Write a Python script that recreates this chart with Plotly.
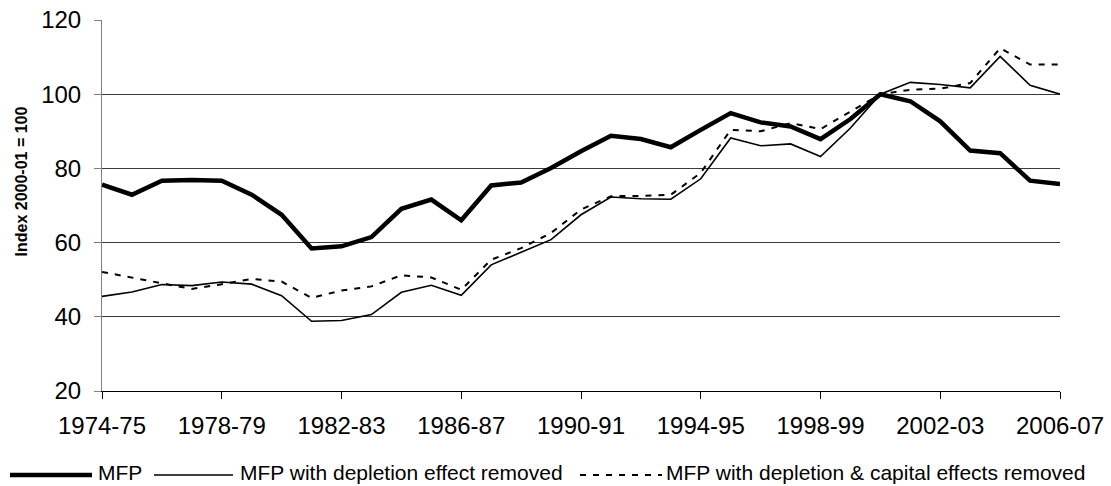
import plotly.graph_objects as go

years = [
    "1974-75", "1975-76", "1976-77", "1977-78", "1978-79", "1979-80", "1980-81",
    "1981-82", "1982-83", "1983-84", "1984-85", "1985-86", "1986-87", "1987-88",
    "1988-89", "1989-90", "1990-91", "1991-92", "1992-93", "1993-94", "1994-95",
    "1995-96", "1996-97", "1997-98", "1998-99", "1999-00", "2000-01", "2001-02",
    "2002-03", "2003-04", "2004-05", "2005-06", "2006-07",
]

mfp = [
    75.6, 72.9, 76.7, 76.9, 76.7, 72.9, 67.5, 58.4, 59.0, 61.5, 69.1, 71.6, 66.0,
    75.4, 76.2, 80.1, 84.6, 88.8, 87.9, 85.7, 90.4, 94.9, 92.4, 91.3, 87.9, 93.3,
    100.0, 98.1, 92.7, 84.8, 84.1, 76.7, 75.8,
]

mfp_depletion = [
    45.5, 46.7, 48.7, 48.4, 49.4, 48.8, 45.7, 38.8, 39.0, 40.6, 46.6, 48.5, 45.8,
    54.0, 57.4, 60.8, 67.5, 72.3, 71.8, 71.7, 77.2, 88.2, 86.1, 86.6, 83.2, 90.9,
    100.0, 103.2, 102.6, 101.7, 110.2, 102.4, 100.0,
]

mfp_depletion_capital = [
    52.1, 50.5, 49.1, 47.5, 48.8, 50.2, 49.5, 45.1, 47.1, 48.2, 51.2, 50.6, 47.3,
    55.4, 58.5, 62.6, 68.9, 72.5, 72.6, 72.9, 78.8, 90.4, 90.0, 92.2, 90.6, 95.4,
    100.0, 101.2, 101.5, 103.0, 112.4, 108.0, 108.0,
]

tick_labels = years[::4]

FONT = "Liberation Sans, Arial, sans-serif"

# plot area geometry (pixels) used to place the legend row below the axis
W, H = 1111, 486
L, R, T, B = 102, 51, 20, 95
PW, PH = W - L - R, H - T - B


def px(x):
    return (x - L) / PW


def py(y):
    return (H - B - y) / PH


series = [
    ("MFP", mfp, dict(color="black", width=4.5)),
    ("MFP with depletion effect removed", mfp_depletion,
     dict(color="black", width=1.6)),
    ("MFP with depletion & capital effects removed", mfp_depletion_capital,
     dict(color="black", width=2, dash="6px,7px")),
]

fig = go.Figure()
for name, vals, line in series:
    fig.add_trace(go.Scatter(x=years, y=vals, mode="lines", name=name, line=line))

# legend row: sample line span and text start, in pixels
legend_pos = [(10, 92, 96), (154, 233, 238), (580, 662, 664)]
legend_line_y = 475
legend_text_y = 472.5
shapes, annotations = [], []
for (name, _, line), (x0, x1, xt) in zip(series, legend_pos):
    shapes.append(dict(
        type="line", xref="paper", yref="paper",
        x0=px(x0), x1=px(x1), y0=py(legend_line_y), y1=py(legend_line_y),
        line=dict(color=line["color"], width=line["width"],
                  dash=line.get("dash", "solid")),
    ))
    annotations.append(dict(
        text=name, xref="paper", yref="paper", x=px(xt), y=py(legend_text_y),
        xanchor="left", yanchor="middle", showarrow=False,
        font=dict(family=FONT, size=21, color="black"),
    ))

annotations.append(dict(
    text="<b>Index 2000-01 = 100</b>", textangle=-90,
    xref="paper", yref="paper", x=px(21), y=py(181.5),
    xanchor="center", yanchor="middle", showarrow=False,
    font=dict(family=FONT, size=16, color="black"),
))

fig.update_layout(
    width=W, height=H,
    margin=dict(l=L, r=R, t=T, b=B, autoexpand=False),
    paper_bgcolor="white", plot_bgcolor="white",
    font=dict(family=FONT, color="black", size=24),
    showlegend=False,
    shapes=shapes,
    annotations=annotations,
)

fig.update_xaxes(
    type="category", categoryorder="array", categoryarray=years,
    range=[0, len(years) - 1], automargin=False,
    tickmode="array", tickvals=tick_labels, ticktext=tick_labels,
    tickangle=0, ticklabelstandoff=6,
    ticks="outside", ticklen=7, tickwidth=1, tickcolor="black",
    showline=True, linecolor="black", linewidth=1,
    showgrid=False, zeroline=False,
    tickfont=dict(family=FONT, size=24, color="black"),
)
fig.update_yaxes(
    range=[20, 120], dtick=20, tick0=20, automargin=False,
    ticks="outside", ticklen=7, tickwidth=1, tickcolor="#808080",
    ticklabelstandoff=8,
    showline=True, linecolor="#808080", linewidth=1,
    showgrid=True, gridcolor="#3a3a3a", gridwidth=1,
    zeroline=False,
    tickfont=dict(family=FONT, size=24, color="black"),
)

fig.write_html("out.html")
